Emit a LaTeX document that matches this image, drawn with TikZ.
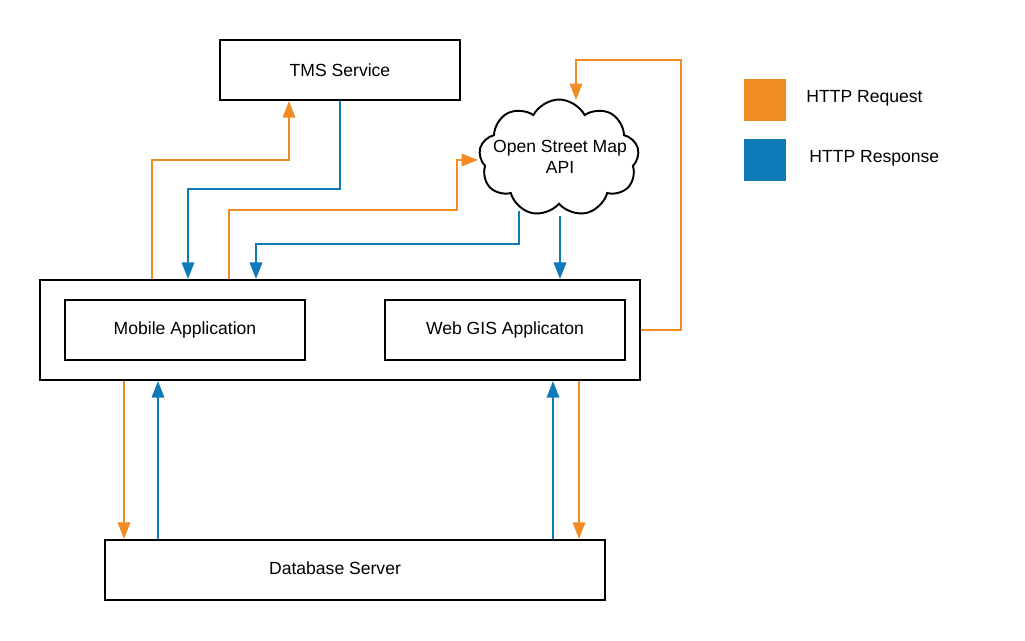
\documentclass[tikz,border=0pt]{standalone}
\usepackage{fontspec}
\setmainfont{Liberation Sans}
\usetikzlibrary{arrows.meta,shapes.symbols}
\definecolor{reqc}{HTML}{F08C24}
\definecolor{respc}{HTML}{0E7AB8}
\begin{document}
\begin{tikzpicture}[x=0.02cm,y=-0.02cm,
  every node/.style={font=\fontsize{10}{12}\selectfont},
  box/.style={draw=black,line width=1.2pt,inner sep=0pt,minimum width=4.8cm,minimum height=1.2cm},
  req/.style={draw=reqc,line width=0.9pt,-{Triangle[length=0.33cm,width=0.25cm]}},
  resp/.style={draw=respc,line width=0.9pt,-{Triangle[length=0.33cm,width=0.25cm]}},
  legsq/.style={minimum size=0.84cm,inner sep=0pt}]
\useasboundingbox (0,0) rectangle (1025,640);
% boxes
\node[box] (tms) at (340,70) {TMS Service};
\node[box,minimum width=12cm,minimum height=2cm] (outer) at (340,330) {};
\node[box] (mob) at (185,330) {Mobile Application};
\node[box] (web) at (505,330) {Web GIS Applicaton};
\node[box,minimum width=10cm,label={[xshift=-0.4cm,yshift=0.04cm]center:Database Server}] (db) at (355,570) {};
\node[cloud,draw=black,line width=1.1pt,cloud puffs=9,cloud puff arc=125,shape border rotate=15,
      minimum width=3.2cm,minimum height=2.34cm,inner sep=0pt] (osm) at (559,158) {};
\node[align=center,inner sep=0pt] (osmt) at (560,157) {Open Street Map\\API};
% helper coordinates
\coordinate (c124) at (124,0);
\coordinate (c152) at (152,0);
\coordinate (c158) at (158,0);
\coordinate (c188) at (188,0);
\coordinate (c229) at (229,0);
\coordinate (c256) at (256,0);
\coordinate (c289) at (289,0);
\coordinate (c340) at (340,0);
\coordinate (c553) at (553,0);
\coordinate (c560) at (560,0);
\coordinate (c579) at (579,0);
\coordinate (osmL) at (478,160);
\coordinate (osmT) at (576,100);
\coordinate (osmB1) at (519,211);
\coordinate (osmB2) at (560,216);
% top connectors
\draw[req] (outer.north -| c152) -- (152,160) -- (289,160) -- (tms.south -| c289);
\draw[resp] (tms.south -| c340) -- (340,189) -- (188,189) -- (outer.north -| c188);
\draw[req] (outer.north -| c229) -- (229,210) -- (457,210) -- (457,160) -- (osmL);
\draw[resp] (osmB1) -- (519,244) -- (256,244) -- (outer.north -| c256);
\draw[resp] (osmB2) -- (outer.north -| c560);
\draw[req] (outer.east) -- (681,330) -- (681,60) -- (576,60) -- (osmT);
% bottom connectors
\draw[req] (outer.south -| c124) -- (db.north -| c124);
\draw[resp] (db.north -| c158) -- (outer.south -| c158);
\draw[resp] (db.north -| c553) -- (outer.south -| c553);
\draw[req] (outer.south -| c579) -- (db.north -| c579);
% legend
\node[legsq,fill=reqc] (lreq) at (765,100) {};
\node[anchor=west,inner sep=0pt] (lreqt) at (806,98) {HTTP Request};
\node[legsq,fill=respc] (lresp) at (765,160) {};
\node[anchor=west,inner sep=0pt] (lrespt) at (809,158) {HTTP Response};
\end{tikzpicture}
\end{document}
